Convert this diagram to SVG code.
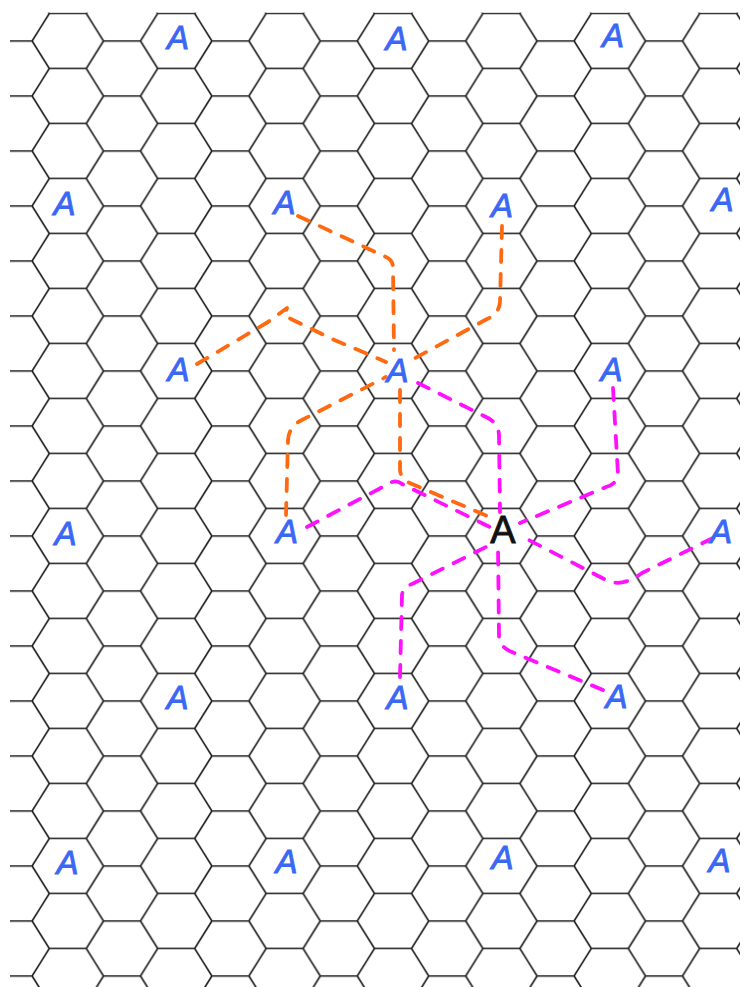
<svg xmlns="http://www.w3.org/2000/svg" width="746" height="987" viewBox="0 0 746 987">
<style>
.grid{fill:none;stroke:#1c1c1c;stroke-width:1.6;stroke-linejoin:round}
.lbl{font-family:"Liberation Sans",Arial,sans-serif;font-style:italic;font-size:33px;fill:#3a68f4;stroke:#3a68f4;stroke-width:0.9;text-anchor:middle}
.blk{font-family:"Liberation Sans",Arial,sans-serif;font-size:38px;fill:#111;stroke:#111;stroke-width:0.9;text-anchor:middle}
.or{fill:none;stroke:#ff6a10;stroke-width:3.8;stroke-linecap:round;stroke-linejoin:round;stroke-dasharray:12 12}
.mg{fill:none;stroke:#ff10ff;stroke-width:3.8;stroke-linecap:round;stroke-linejoin:round;stroke-dasharray:12 12}
</style>
<defs>
<pattern id="hex" patternUnits="userSpaceOnUse" x="67.8" y="27.25" width="108.4" height="55">
<path class="grid" d="M18.5,-13.75 L35.7,13.75 L18.5,41.25 L35.7,68.75 M-18.5,41.25 H18.5 M35.7,13.75 H72.7 M89.9,-13.75 L72.7,13.75 L89.9,41.25 L72.7,68.75 M89.9,41.25 H126.9"/>
</pattern>
</defs>
<rect width="746" height="987" fill="#fff"/>
<g id="grid">
<rect x="10" y="12.6" width="730" height="975" fill="url(#hex)"/>
</g>
<g id="connectors">
<path class="or" d="M298,216 L386,257 Q393,260 393,268 L394,350"/>
<path class="or" d="M502,226 L500,302 Q499,314 487,319 L408,362"/>
<path class="or" d="M197,364 L268,322 L287,308 L285,316 L293,320 L330,338 L386,362"/>
<path class="or" d="M286,515 L288,440 Q289,427 300,421 L386,377"/>
<path class="or" d="M400,390 L400,470 Q401,480 412,484 L492,518"/>
<path class="mg" d="M418,383 L488,418 Q499,424 499,436 L500,512"/>
<path class="mg" d="M613,388 L618,474 Q617,484 606,487 L520,523"/>
<path class="mg" d="M713,538 L642,573 Q622,588 606,580 L523,537"/>
<path class="mg" d="M603,690 L512,652 Q499,647 499,635 L498,545"/>
<path class="mg" d="M400,677 L402,595 Q403,587 412,584 L490,545"/>
<path class="mg" d="M307,527 L392,482 Q397,480 402,484 L492,528"/>
</g>
<g id="n1"><text class="lbl" x="178" y="49">A</text></g>
<g id="n2"><text class="lbl" x="396.5" y="50">A</text></g>
<g id="n3"><text class="lbl" x="613" y="47">A</text></g>
<g id="n4"><text class="lbl" x="64.5" y="215">A</text></g>
<g id="n5"><text class="lbl" x="284.5" y="214">A</text></g>
<g id="n6"><text class="lbl" x="502" y="217">A</text></g>
<g id="n7"><text class="lbl" x="722.5" y="210.5">A</text></g>
<g id="n8"><text class="lbl" x="178.5" y="381">A</text></g>
<g id="n9"><text class="lbl" x="397.5" y="382">A</text></g>
<g id="n10"><text class="lbl" x="611.5" y="380.5">A</text></g>
<g id="n11"><text class="lbl" x="65.5" y="545">A</text></g>
<g id="n12"><text class="lbl" x="287" y="543">A</text></g>
<g id="n13"><text class="blk" x="503" y="543">A</text></g>
<g id="n14"><text class="lbl" x="721" y="543">A</text></g>
<g id="n15"><text class="lbl" x="177.5" y="709">A</text></g>
<g id="n16"><text class="lbl" x="397.5" y="708.5">A</text></g>
<g id="n17"><text class="lbl" x="616.5" y="708">A</text></g>
<g id="n18"><text class="lbl" x="67.5" y="874">A</text></g>
<g id="n19"><text class="lbl" x="286.5" y="873">A</text></g>
<g id="n20"><text class="lbl" x="502.5" y="869">A</text></g>
<g id="n21"><text class="lbl" x="719.5" y="872">A</text></g>
</svg>
